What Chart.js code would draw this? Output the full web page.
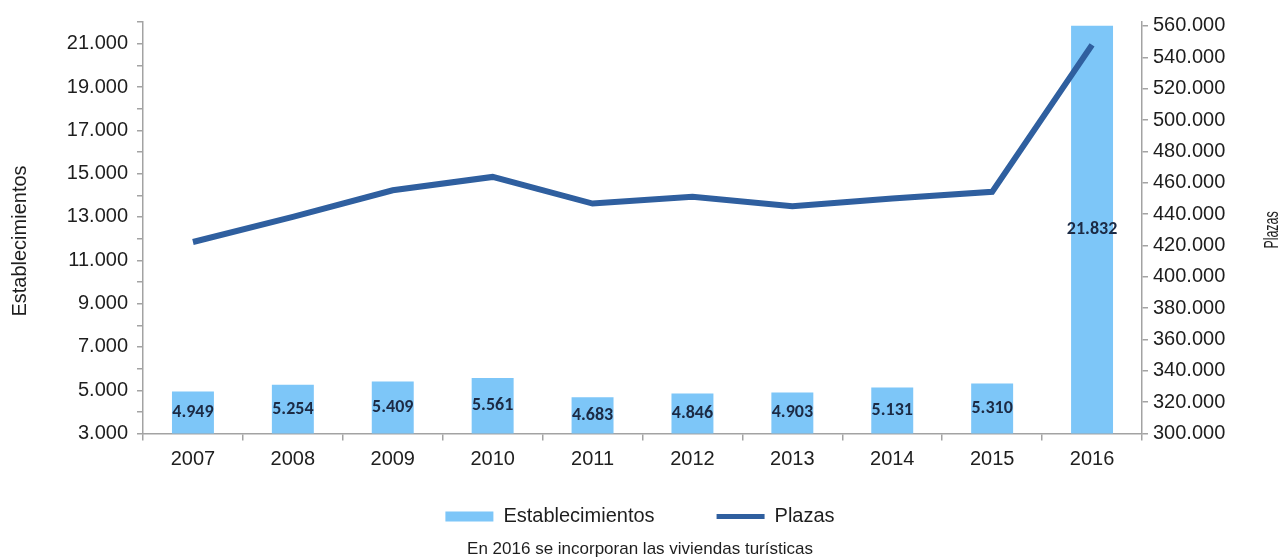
<!DOCTYPE html>
<html>
<head>
<meta charset="utf-8">
<script src="https://cdn.jsdelivr.net/npm/chart.js@4"></script>
<style>
  html, body { margin: 0; padding: 0; background: #ffffff; }
  #wrap { width: 1280px; height: 560px; position: relative; }
</style>
</head>
<body>
<div id="wrap"><canvas id="c" width="1280" height="560"></canvas></div>
<script>
// ---- data ----
const YEARS = ['2007', '2008', '2009', '2010', '2011', '2012', '2013', '2014', '2015', '2016'];
const ESTABLECIMIENTOS = [4949, 5254, 5409, 5561, 4683, 4846, 4903, 5131, 5310, 21832];
const PLAZAS = [422200, 438200, 455200, 463700, 446700, 451000, 445000, 449900, 454200, 547900];
const LEFT_TICKS = [3000, 4000, 5000, 6000, 7000, 8000, 9000, 10000, 11000, 12000, 13000, 14000, 15000, 16000, 17000, 18000, 19000, 20000, 21000, 22000];
const LEFT_LABELS = [3000, 5000, 7000, 9000, 11000, 13000, 15000, 17000, 19000, 21000];
const RIGHT_TICKS = [300000, 320000, 340000, 360000, 380000, 400000, 420000, 440000, 460000, 480000, 500000, 520000, 540000, 560000];
const LEFT_TITLE = 'Establecimientos';
const RIGHT_TITLE = 'Plazas';
const FOOTNOTE = 'En 2016 se incorporan las viviendas turísticas';

function fmt(v) { return String(Math.round(v)).replace(/\B(?=(\d{3})+(?!\d))/g, '.'); }

const FONT = "'Liberation Sans', Arial, sans-serif";
const AXIS_GRAY = '#a3a3a3';
const TEXT = '#1e1e1e';

const barLabels = {
  id: 'barLabels',
  afterDatasetsDraw(chart) {
    const ctx = chart.ctx;
    const meta = chart.getDatasetMeta(0);
    const bottom = chart.chartArea.bottom;
    ctx.save();
    ctx.font = "bold 18px Carlito, 'Liberation Sans Narrow', 'Liberation Sans', sans-serif";
    ctx.fillStyle = '#1c2a44';
    ctx.textAlign = 'center';
    ctx.textBaseline = 'middle';
    meta.data.forEach((bar, i) => {
      const base = Math.min(bar.base, bottom);
      ctx.fillText(fmt(ESTABLECIMIENTOS[i]), bar.x, (bar.y + base) / 2);
    });
    ctx.restore();
  }
};

const axisTitles = {
  id: 'axisTitles',
  afterDraw(chart) {
    const ctx = chart.ctx;
    ctx.save();
    ctx.fillStyle = TEXT;
    ctx.textAlign = 'center';
    ctx.textBaseline = 'middle';
    ctx.font = '20px ' + FONT;
    ctx.translate(20, 241);
    ctx.rotate(-Math.PI / 2);
    ctx.fillText(LEFT_TITLE, 0, 0);
    ctx.restore();
    ctx.save();
    ctx.fillStyle = TEXT;
    ctx.textAlign = 'center';
    ctx.textBaseline = 'middle';
    ctx.font = '20px ' + FONT;
    ctx.translate(chart.width - 8, 230);
    ctx.rotate(-Math.PI / 2);
    ctx.scale(0.62, 1.0);
    ctx.fillText(RIGHT_TITLE, 0, 0);
    ctx.restore();
  }
};

new Chart(document.getElementById('c'), {
  data: {
    labels: YEARS,
    datasets: [
      {
        type: 'bar',
        label: 'Establecimientos',
        data: ESTABLECIMIENTOS,
        backgroundColor: '#7dc6f8',
        borderWidth: 0,
        yAxisID: 'y',
        barPercentage: 0.42,
        categoryPercentage: 1.0,
        order: 1
      },
      {
        type: 'line',
        label: 'Plazas',
        data: PLAZAS,
        borderColor: '#2f5f9f',
        backgroundColor: '#2f5f9f',
        borderWidth: 6,
        pointRadius: 0,
        pointHoverRadius: 0,
        tension: 0,
        fill: false,
        yAxisID: 'y1',
        order: 0
      }
    ]
  },
  options: {
    responsive: false,
    animation: false,
    devicePixelRatio: 1,
    layout: { padding: { top: 22, left: 0, right: 0, bottom: 0 } },
    plugins: {
      tooltip: { enabled: false },
      legend: {
        position: 'bottom',
        align: 'center',
        labels: {
          usePointStyle: true,
          pointStyleWidth: 48,
          boxHeight: 10,
          padding: 62,
          color: TEXT,
          font: { family: FONT, size: 20 },
          sort: (a, b) => a.datasetIndex - b.datasetIndex,
          generateLabels(chart) {
            const items = Chart.defaults.plugins.legend.labels.generateLabels(chart);
            items.forEach(it => {
              if (it.datasetIndex === 0) { it.pointStyle = 'rect'; it.lineWidth = 0; it.fillStyle = '#7dc6f8'; it.strokeStyle = '#7dc6f8'; }
              else { it.pointStyle = 'line'; it.lineWidth = 5; it.strokeStyle = '#2f5f9f'; }
            });
            return items;
          }
        }
      },
      subtitle: {
        display: true,
        position: 'bottom',
        text: FOOTNOTE,
        color: TEXT,
        font: { family: FONT, size: 17, weight: 'normal' },
        padding: { top: 3, bottom: 0 }
      }
    },
    scales: {
      x: {
        offset: true,
        grid: { offset: true, drawOnChartArea: false, drawTicks: true, tickLength: 7, color: AXIS_GRAY, lineWidth: 1.5 },
        border: { display: true, color: AXIS_GRAY, width: 1.5 },
        ticks: { color: TEXT, font: { family: FONT, size: 20 }, mirror: true, padding: -38, maxRotation: 0, autoSkip: false },
        afterFit(scale) { scale.height = 11; }
      },
      y: {
        position: 'left',
        min: 3000,
        max: 22000,
        afterBuildTicks(scale) { scale.ticks = LEFT_TICKS.map(v => ({ value: v })); },
        afterFit(scale) { scale.width = 143; },
        grid: { drawOnChartArea: false, drawTicks: true, tickLength: 6, color: AXIS_GRAY, lineWidth: 1.5 },
        border: { display: true, color: AXIS_GRAY, width: 1.5 },
        ticks: {
          autoSkip: false,
          color: TEXT,
          padding: 9,
          font: { family: FONT, size: 20 },
          callback: (v) => LEFT_LABELS.includes(v) ? fmt(v) : ''
        }
      },
      y1: {
        position: 'right',
        min: 300000,
        max: 562500,
        afterBuildTicks(scale) { scale.ticks = RIGHT_TICKS.map(v => ({ value: v })); },
        afterFit(scale) { scale.width = 138; },
        grid: { drawOnChartArea: false, drawTicks: true, tickLength: 6, color: AXIS_GRAY, lineWidth: 1.5 },
        border: { display: true, color: AXIS_GRAY, width: 1.5 },
        ticks: {
          autoSkip: false,
          color: TEXT,
          padding: 5,
          font: { family: FONT, size: 20 },
          callback: (v) => fmt(v)
        }
      }
    }
  },
  plugins: [barLabels, axisTitles]
});
</script>
</body>
</html>
